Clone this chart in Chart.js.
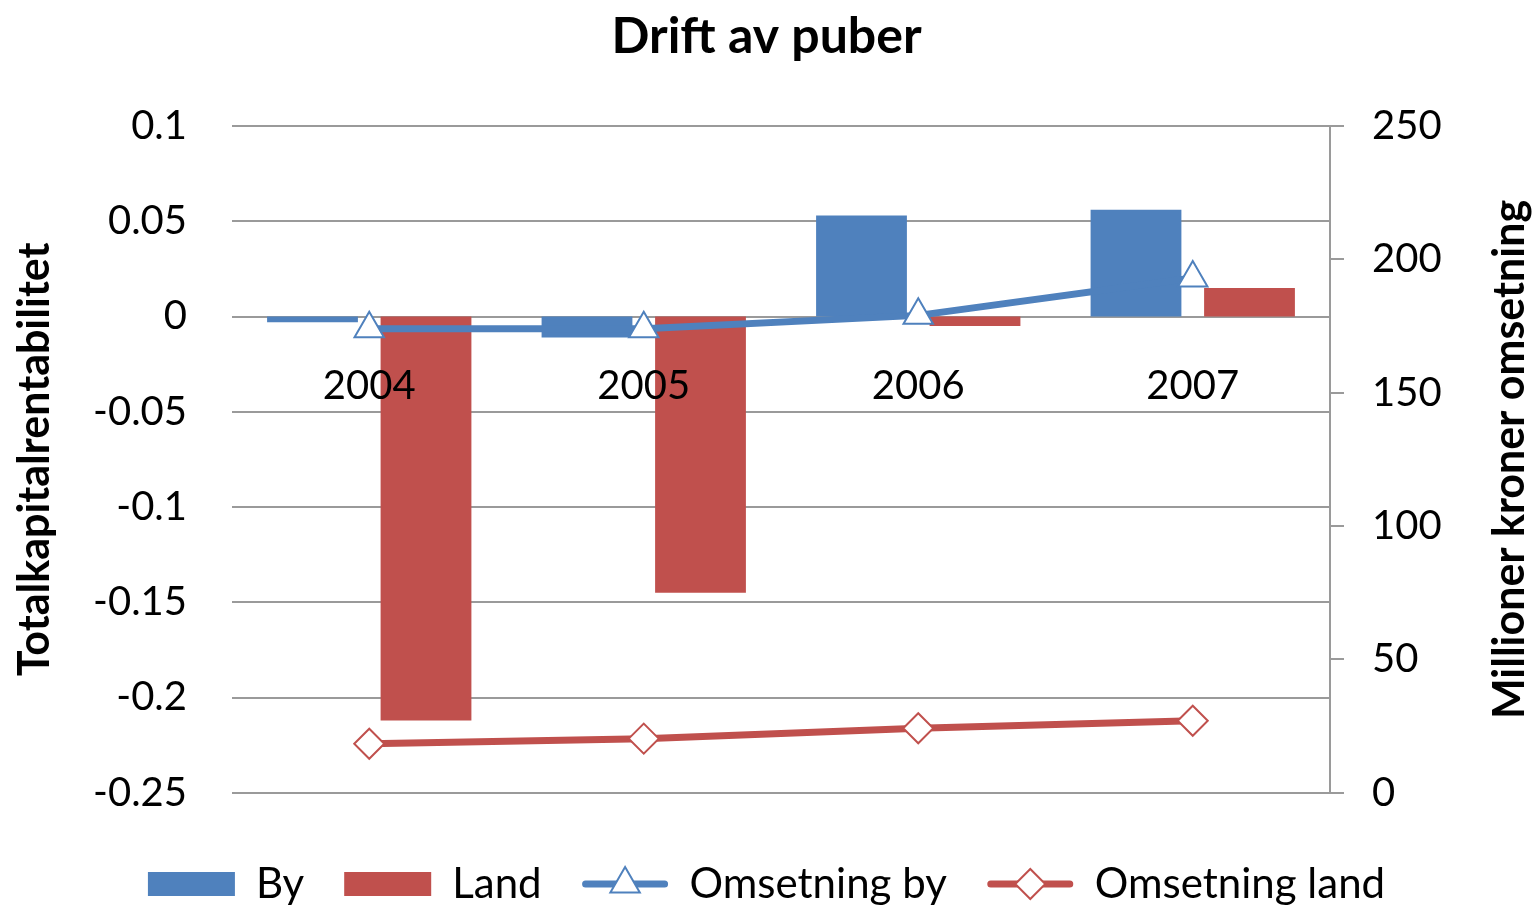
<!DOCTYPE html>
<html>
<head>
<meta charset="utf-8">
<script src="https://cdn.jsdelivr.net/npm/chart.js@4.4.1/dist/chart.umd.min.js"></script>
<style>
  html, body { margin: 0; padding: 0; background: #fff; }
  #wrap { width: 1533px; height: 906px; }
</style>
</head>
<body>
<div id="wrap"><canvas id="chart" width="1533" height="906"></canvas></div>
<script>
const years = ["2004", "2005", "2006", "2007"];
const byValues = [-0.003, -0.011, 0.053, 0.056];
const landValues = [-0.212, -0.145, -0.005, 0.015];
const omsetningBy = [174, 174, 179, 193];
const omsetningLand = [18.4, 20.3, 24.2, 27.0];

const BLUE = "#4F81BD";
const RED = "#C0504D";
const GRID = "#9a9a9a";
const FONT = "Lato, 'Open Sans', sans-serif";

// right axis title reads bottom-to-top like the left one
const rightTitle = {
  id: "rightTitle",
  afterDraw(chart) {
    const { ctx, chartArea } = chart;
    ctx.save();
    ctx.translate(1510, (chartArea.top + chartArea.bottom) / 2);
    ctx.rotate(-Math.PI / 2);
    ctx.font = "bold 43px " + FONT;
    ctx.fillStyle = "#000";
    ctx.textAlign = "center";
    ctx.textBaseline = "middle";
    ctx.fillText("Millioner kroner omsetning", 0, 0);
    ctx.restore();
  },
};

// line + marker symbol for the two line series in the legend
const legendLines = {
  id: "legendLines",
  afterDraw(chart) {
    const legend = chart.legend;
    if (!legend || !legend.legendHitBoxes) return;
    const ctx = chart.ctx;
    legend.legendItems.forEach((item, i) => {
      const ds = chart.data.datasets[item.datasetIndex];
      if (ds.type !== "line") return;
      const box = legend.legendHitBoxes[i];
      const w = legend.options.labels.boxWidth;
      const cy = box.top + box.height / 2;
      ctx.save();
      ctx.strokeStyle = ds.borderColor;
      ctx.lineWidth = 7;
      ctx.lineCap = "round";
      ctx.beginPath();
      ctx.moveTo(box.left + 4, cy);
      ctx.lineTo(box.left + w - 4, cy);
      ctx.stroke();
      ctx.fillStyle = "#fff";
      ctx.strokeStyle = ds.pointBorderColor;
      ctx.lineWidth = ds.pointBorderWidth;
      Chart.helpers.drawPoint(ctx, {
        pointStyle: ds.pointStyle,
        radius: ds.pointRadius,
        borderWidth: ds.pointBorderWidth,
        rotation: 0,
      }, box.left + w / 2, cy);
      ctx.restore();
    });
  },
};

new Chart(document.getElementById("chart"), {
  type: "bar",
  data: {
    labels: years,
    datasets: [
      { label: "By", data: byValues, backgroundColor: BLUE, yAxisID: "y", order: 2 },
      { label: "Land", data: landValues, backgroundColor: RED, yAxisID: "y", order: 2 },
      {
        type: "line", label: "Omsetning by", data: omsetningBy, yAxisID: "y2", order: 1,
        borderColor: BLUE, borderWidth: 7, pointStyle: "triangle", pointRadius: 17,
        pointBackgroundColor: "#fff", pointBorderColor: BLUE, pointBorderWidth: 2,
      },
      {
        type: "line", label: "Omsetning land", data: omsetningLand, yAxisID: "y2", order: 1,
        borderColor: RED, borderWidth: 7, pointStyle: "rectRot", pointRadius: 15,
        pointBackgroundColor: "#fff", pointBorderColor: RED, pointBorderWidth: 2,
      },
    ],
  },
  options: {
    responsive: false,
    animation: false,
    categoryPercentage: 0.827,
    barPercentage: 0.8,
    layout: { padding: { left: 0, right: 0, top: 0, bottom: -9 } },
    plugins: {
      title: {
        display: true,
        text: "Drift av puber",
        color: "#000",
        font: { family: FONT, size: 50, weight: "bold" },
        padding: { top: 7, bottom: 59 },
      },
      legend: {
        position: "bottom",
        title: { display: true, text: "", font: { size: 1 }, padding: { top: 0, bottom: 29 } },
        labels: {
          color: "#000",
          font: { family: FONT, size: 42 },
          boxWidth: 87,
          boxHeight: 24,
          padding: 40,
          sort: (a, b) => a.datasetIndex - b.datasetIndex,
          generateLabels(chart) {
            const items = Chart.defaults.plugins.legend.labels.generateLabels(chart);
            items.forEach((it) => {
              const ds = chart.data.datasets[it.datasetIndex];
              if (ds.type === "line") {
                it.fillStyle = "rgba(0,0,0,0)";
                it.strokeStyle = "rgba(0,0,0,0)";
              }
              it.lineWidth = 0;
            });
            return items;
          },
        },
      },
      tooltip: { enabled: false },
    },
    scales: {
      x: {
        position: { y: 0 },
        grid: { display: false, drawTicks: false },
        border: { display: false },
        ticks: { z: 1, color: "#000", font: { family: FONT, size: 40 }, padding: 46 },
      },
      y: {
        position: "left",
        min: -0.25,
        max: 0.1,
        afterFit: (scale) => { scale.width = 232; },
        grid: { color: GRID, lineWidth: 2, drawTicks: false },
        border: { display: false },
        ticks: {
          stepSize: 0.05,
          color: "#000",
          padding: 45,
          font: { family: FONT, size: 40 },
          callback: (v) => String(Number(v.toFixed(2))),
        },
        title: {
          display: true,
          text: "Totalkapitalrentabilitet",
          color: "#000",
          font: { family: FONT, size: 43, weight: "bold" },
          padding: { top: 9, bottom: 0 },
        },
      },
      y2: {
        position: "right",
        min: 0,
        max: 250,
        afterFit: (scale) => { scale.width = 203; },
        grid: { drawOnChartArea: false, color: GRID, lineWidth: 2, tickLength: 14 },
        border: { display: true, color: GRID, width: 2 },
        ticks: { stepSize: 50, color: "#000", padding: 28, font: { family: FONT, size: 40 } },
      },
    },
  },
  plugins: [rightTitle, legendLines],
});
</script>
</body>
</html>
